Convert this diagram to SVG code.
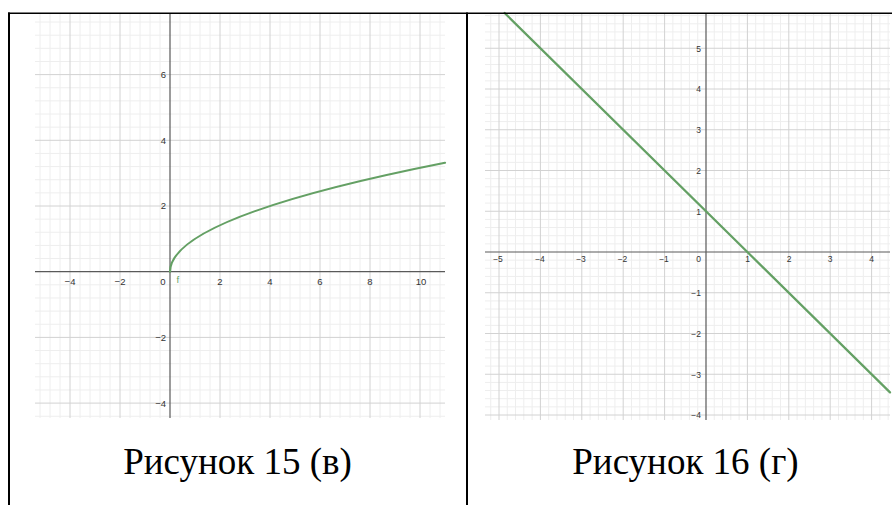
<svg xmlns="http://www.w3.org/2000/svg" width="892" height="505" viewBox="0 0 892 505">
<style>
.minor{stroke:#eeeeee;stroke-width:1;fill:none}
.major{stroke:#d2d2d2;stroke-width:1;fill:none}
.axis{stroke:#5a5a5a;stroke-width:1.2;fill:none}
.curve{stroke:#64a064;stroke-width:2.2;fill:none;stroke-linecap:round}
.lbl{font-family:"Liberation Sans",Arial,sans-serif;font-size:9.5px;fill:#333}
.lbl2{font-family:"Liberation Sans",Arial,sans-serif;font-size:8.5px;fill:#333}
.cap{font-family:"Liberation Serif","Times New Roman",serif;font-size:37px;fill:#000}
.border{stroke:#000;fill:none}
</style>
<rect width="892" height="505" fill="#fff"/>

<g id="graph-left">
<path class="minor" d="M40 13V418M50 13V418M60 13V418M80 13V418M90 13V418M100 13V418M110 13V418M130 13V418M140 13V418M150 13V418M160 13V418M180 13V418M190 13V418M200 13V418M210 13V418M230 13V418M240 13V418M250 13V418M260 13V418M280 13V418M290 13V418M300 13V418M310 13V418M330 13V418M340 13V418M350 13V418M360 13V418M380 13V418M390 13V418M400 13V418M410 13V418M430 13V418M440 13V418"/>
<path class="minor" d="M35 22.04H445M35 35.18H445M35 48.32H445M35 61.46H445M35 87.74H445M35 100.88H445M35 114.02H445M35 127.16H445M35 153.44H445M35 166.58H445M35 179.72H445M35 192.86H445M35 219.14H445M35 232.28H445M35 245.42H445M35 258.56H445M35 284.84H445M35 297.98H445M35 311.12H445M35 324.26H445M35 350.54H445M35 363.68H445M35 376.82H445M35 389.96H445M35 416.24H445"/>
<path class="major" d="M70 13V418M120 13V418M220 13V418M270 13V418M320 13V418M370 13V418M420 13V418M35 74.6H445M35 140.3H445M35 206H445M35 337.4H445M35 403.1H445"/>
<path class="axis" d="M35 271.7H445M170 13V418"/>
<path class="curve" d="M170 271.7Q170 217.22 445 162.75"/>
<text class="lbl" x="176.5" y="283" style="fill:#64a064">f</text>
<g class="lbl" text-anchor="middle">
<text x="70" y="285">−4</text>
<text x="120" y="285">−2</text>
<text x="163" y="285">0</text>
<text x="220" y="285">2</text>
<text x="270" y="285">4</text>
<text x="320" y="285">6</text>
<text x="370" y="285">8</text>
<text x="421" y="285">10</text>
</g>
<g class="lbl" text-anchor="end">
<text x="166" y="78">6</text>
<text x="166" y="143.5">4</text>
<text x="166" y="209">2</text>
<text x="166" y="341">−2</text>
<text x="166" y="406.5">−4</text>
</g>
</g>

<g id="graph-right">
<path class="minor" d="M490.72 13V420M507.28 13V420M515.56 13V420M523.84 13V420M532.12 13V420M548.68 13V420M556.96 13V420M565.24 13V420M573.52 13V420M590.08 13V420M598.36 13V420M606.64 13V420M614.92 13V420M631.48 13V420M639.76 13V420M648.04 13V420M656.32 13V420M672.88 13V420M681.16 13V420M689.44 13V420M697.72 13V420M714.28 13V420M722.56 13V420M730.84 13V420M739.12 13V420M755.68 13V420M763.96 13V420M772.24 13V420M780.52 13V420M797.08 13V420M805.36 13V420M813.64 13V420M821.92 13V420M838.48 13V420M846.76 13V420M855.04 13V420M863.32 13V420M879.88 13V420M888.16 13V420"/>
<path class="minor" d="M485 15.65H890M485 23.8H890M485 31.95H890M485 40.1H890M485 56.4H890M485 64.55H890M485 72.7H890M485 80.85H890M485 97.15H890M485 105.3H890M485 113.45H890M485 121.6H890M485 137.9H890M485 146.05H890M485 154.2H890M485 162.35H890M485 178.65H890M485 186.8H890M485 194.95H890M485 203.1H890M485 219.4H890M485 227.55H890M485 235.7H890M485 243.85H890M485 260.15H890M485 268.3H890M485 276.45H890M485 284.6H890M485 300.9H890M485 309.05H890M485 317.2H890M485 325.35H890M485 341.65H890M485 349.8H890M485 357.95H890M485 366.1H890M485 382.4H890M485 390.55H890M485 398.7H890M485 406.85H890"/>
<path class="major" d="M499 13V420M540.4 13V420M581.8 13V420M623.2 13V420M664.6 13V420M747.4 13V420M788.8 13V420M830.2 13V420M871.6 13V420M485 48.25H890M485 89H890M485 129.75H890M485 170.5H890M485 211.25H890M485 292.75H890M485 333.5H890M485 374.25H890M485 415H890"/>
<path class="axis" d="M485 252H890M706 13V420"/>
<path class="curve" d="M504.6 13L890 392.4"/>
<g class="lbl2" text-anchor="middle">
<text x="498" y="262">−5</text>
<text x="540" y="262">−4</text>
<text x="581" y="262">−3</text>
<text x="622.5" y="262">−2</text>
<text x="664" y="262">−1</text>
<text x="698.5" y="262">0</text>
<text x="747.5" y="262">1</text>
<text x="789" y="262">2</text>
<text x="830" y="262">3</text>
<text x="871.5" y="262">4</text>
</g>
<g class="lbl2" text-anchor="end">
<text x="701" y="51.5">5</text>
<text x="701" y="92">4</text>
<text x="701" y="133">3</text>
<text x="701" y="173.5">2</text>
<text x="701" y="214.5">1</text>
<text x="701" y="295.5">−1</text>
<text x="701" y="336.5">−2</text>
<text x="701" y="377.5">−3</text>
<text x="701" y="418">−4</text>
</g>
</g>

<g id="frame">
<path class="border" stroke-width="1.6" d="M8 13.2H892"/>
<path class="border" stroke-width="2" d="M9 12.4V505M467 12.4V505"/>
</g>

<g id="captions">
<text class="cap" x="237.5" y="474" text-anchor="middle">Рисунок 15 (в)</text>
<text class="cap" x="685.5" y="474" text-anchor="middle">Рисунок 16 (г)</text>
</g>
</svg>
